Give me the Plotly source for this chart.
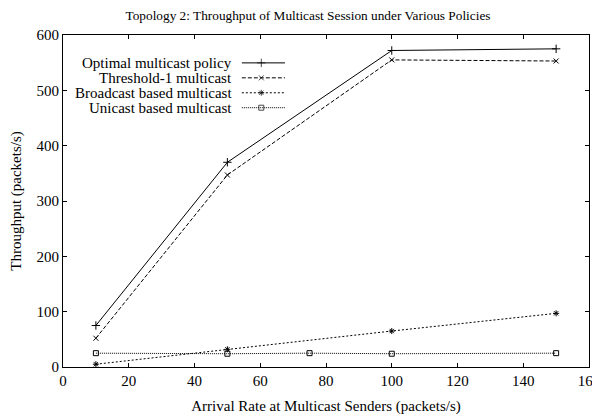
import plotly.graph_objects as go

# data
rate = [10, 50, 100, 150]
optimal = [75, 370, 572, 575]
threshold1 = [52, 347, 555, 553]
broadcast = [5, 32, 65, 97]
unicast_rate = [10, 50, 75, 100, 150]
unicast = [25, 24, 25, 24, 25]

names = ["Optimal multicast policy", "Threshold-1 multicast",
         "Broadcast based multicast", "Unicast based multicast"]
symbols = ["cross-thin-open", "x-thin-open", "asterisk-open", "square-open"]
dashes = ["solid", "4px,2px", "2px,2px", "1px,1px"]
sizes = [6, 5, 5, 5]

FONT = "Liberation Serif, Times New Roman, Times, serif"

fig = go.Figure()

series = [(rate, optimal), (rate, threshold1), (rate, broadcast), (unicast_rate, unicast)]
for (xs, ys), name, sym, dash, sz in zip(series, names, symbols, dashes, sizes):
    fig.add_trace(go.Scatter(
        x=xs, y=ys, name=name, mode="lines+markers",
        line=dict(color="black", width=1, dash=dash),
        marker=dict(symbol=sym, size=sz, color="black",
                    line=dict(color="black", width=1)),
        showlegend=False,
    ))

# gnuplot-style key: text right aligned, sample on the right
key_y = [0.916, 0.871, 0.826, 0.781]
for name, sym, dash, sz, ky in zip(names, symbols, dashes, sizes, key_y):
    fig.add_annotation(
        xref="paper", yref="paper", x=0.326, y=ky, text=name,
        showarrow=False, xanchor="right", yanchor="middle",
        font=dict(family=FONT, size=15, color="black"),
    )
    fig.add_trace(go.Scatter(
        x=[0.34, 0.377, 0.422], y=[ky, ky, ky], xaxis="x2", yaxis="y2",
        mode="lines+markers", showlegend=False, hoverinfo="skip",
        line=dict(color="black", width=1, dash=dash),
        marker=dict(symbol=sym, size=[0, sz, 0], color="black",
                    line=dict(color="black", width=1)),
    ))

axis_common = dict(
    showline=True, linecolor="black", linewidth=1, mirror="ticks",
    ticks="inside", ticklen=4, tickcolor="black", showgrid=False,
    zeroline=False, automargin=False,
    tickfont=dict(family=FONT, size=15, color="black"),
)

# page body adds an 8px offset, margins compensate for it
fig.update_layout(
    width=600, height=419,
    margin=dict(l=55, r=19, t=27, b=60),
    paper_bgcolor="white", plot_bgcolor="white",
    title=dict(text="Topology 2: Throughput of Multicast Session under Various Policies",
               x=0.5, xanchor="center", y=0.983, yanchor="middle",
               font=dict(family=FONT, size=13.3, color="black")),
    xaxis=dict(range=[0, 160], dtick=20, **axis_common,
               title=dict(text="Arrival Rate at Multicast Senders (packets/s)",
                          font=dict(family=FONT, size=15, color="black"), standoff=12)),
    yaxis=dict(range=[0, 600], dtick=100, **axis_common,
               title=dict(text="Throughput (packets/s)",
                          font=dict(family=FONT, size=15, color="black"), standoff=12)),
    xaxis2=dict(overlaying="x", range=[0, 1], visible=False),
    yaxis2=dict(overlaying="y", range=[0, 1], visible=False),
)

fig.write_html("out.html")
